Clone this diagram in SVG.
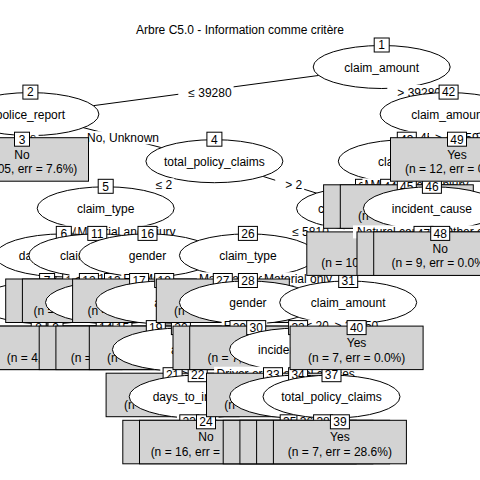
<svg xmlns="http://www.w3.org/2000/svg" width="480" height="480" viewBox="0 0 480 480">
<style>
text{font-family:"Liberation Sans",Arial,sans-serif;font-size:12px;fill:#000}
.m{text-anchor:middle}
.e{fill:#fff;stroke:#000;stroke-width:1}
.t{fill:#d3d3d3;stroke:#000;stroke-width:1}
.i{fill:#fff;stroke:#000;stroke-width:1}
.b{fill:#fff}
line{stroke:#000;stroke-width:1}
</style>
<rect width="480" height="480" fill="#fff"/>
<text class="m" x="240" y="33.5">Arbre C5.0 - Information comme critère</text>
<g id="e1"><line x1="381.7" y1="67" x2="30.4" y2="114.1"/><line x1="381.7" y1="67" x2="448.6" y2="114.1"/></g>
<g id="n1"><ellipse class="e" cx="381.7" cy="67" rx="68.5" ry="21.5"/><text class="m" x="381.7" y="71.5">claim_amount</text><rect class="i" x="374.2" y="38" width="15" height="14"/><text class="m" x="381.7" y="49.3">1</text></g>
<g id="l1"><rect class="b" x="178.3" y="85" width="55.3" height="14"/><text class="m" x="210" y="96.5">≤ 39280</text><rect class="b" x="387.3" y="85" width="55.7" height="14"/><text class="m" x="419.2" y="96.5">&gt; 39280</text></g>
<g id="e2"><line x1="30.4" y1="114.1" x2="22" y2="161.2"/><line x1="30.4" y1="114.1" x2="214.4" y2="161.2"/></g>
<g id="n2"><ellipse class="e" cx="30.4" cy="114.1" rx="68.5" ry="21.5"/><text class="m" x="30.4" y="118.6">police_report</text><rect class="i" x="22.9" y="85.1" width="15" height="14"/><text class="m" x="30.4" y="96.4">2</text></g>
<g id="l2"><rect class="b" x="13.9" y="131.2" width="24.7" height="13"/><text class="m" x="26.2" y="142">Yes</text><rect class="b" x="85" y="131.2" width="76" height="13"/><text class="m" x="123" y="142">No, Unknown</text></g>
<g id="n3"><rect class="t" x="-44.5" y="137.7" width="133" height="43.5"/><text class="m" x="22" y="158.6">No</text><text class="m" x="22" y="173.2">(n = 105, err = 7.6%)</text><rect class="i" x="14.5" y="132.2" width="15" height="14"/><text class="m" x="22" y="143.5">3</text></g>
<g id="e4"><line x1="214.4" y1="161.2" x2="105.7" y2="208.3"/><line x1="214.4" y1="161.2" x2="365" y2="208.3"/></g>
<g id="n4"><ellipse class="e" cx="214.4" cy="161.2" rx="68.5" ry="21.5"/><text class="m" x="214.4" y="165.7">total_policy_claims</text><rect class="i" x="206.9" y="132.2" width="15" height="14"/><text class="m" x="214.4" y="143.5">4</text></g>
<g id="l4"><rect class="b" x="145.7" y="178.3" width="28.6" height="13"/><text class="m" x="164" y="189.1">≤ 2</text><rect class="b" x="275.2" y="178.3" width="29" height="13"/><text class="m" x="293.7" y="189.1">&gt; 2</text></g>
<g id="e5"><line x1="105.7" y1="208.3" x2="63.8" y2="255.4"/><line x1="105.7" y1="208.3" x2="97.3" y2="255.4"/><line x1="105.7" y1="208.3" x2="147.5" y2="255.4"/></g>
<g id="n5"><ellipse class="e" cx="105.7" cy="208.3" rx="68.5" ry="21.5"/><text class="m" x="105.7" y="212.8">claim_type</text><rect class="i" x="98.2" y="179.3" width="15" height="14"/><text class="m" x="105.7" y="190.6">5</text></g>
<g id="l5"><rect class="b" x="55.4" y="225.4" width="58.7" height="13"/><text class="m" x="84.7" y="236.2">Injury only</text><rect class="b" x="65.5" y="225.4" width="72" height="13"/><text class="m" x="101.5" y="236.2">Material only</text><rect class="b" x="75.6" y="225.4" width="102" height="13"/><text class="m" x="126.6" y="236.2">Material and injury</text></g>
<g id="e6"><line x1="63.8" y1="255.4" x2="47.1" y2="302.5"/><line x1="63.8" y1="255.4" x2="72.2" y2="302.5"/></g>
<g id="n6"><ellipse class="e" cx="63.8" cy="255.4" rx="68.5" ry="21.5"/><text class="m" x="63.8" y="259.9">days_to_incident</text><rect class="i" x="56.3" y="226.4" width="15" height="14"/><text class="m" x="63.8" y="237.7">6</text></g>
<g id="e7"><line x1="47.1" y1="302.5" x2="38.7" y2="349.6"/><line x1="47.1" y1="302.5" x2="55.5" y2="349.6"/></g>
<g id="n7"><ellipse class="e" cx="47.1" cy="302.5" rx="68.5" ry="21.5"/><rect class="i" x="39.6" y="273.5" width="15" height="14"/><text class="m" x="47.1" y="284.8">7</text></g>
<g id="n8"><rect class="t" x="-27.8" y="326.1" width="133" height="43.5"/><text class="m" x="38.7" y="361.6">(n = 4, err = 0.0%)</text><rect class="i" x="31.2" y="320.6" width="15" height="14"/><text class="m" x="38.7" y="331.9">8</text></g>
<g id="n9"><rect class="t" x="-11" y="326.1" width="133" height="43.5"/><text class="m" x="55.5" y="361.6">(n = 4, err = 0.0%)</text><rect class="i" x="48" y="320.6" width="15" height="14"/><text class="m" x="55.5" y="331.9">9</text></g>
<g id="n10"><rect class="t" x="5.7" y="279" width="133" height="43.5"/><text class="m" x="72.2" y="314.5">(n = 8, err = 0.0%)</text><rect class="i" x="62.7" y="273.5" width="19" height="14"/><text class="m" x="72.2" y="284.8">10</text></g>
<g id="e11"><line x1="97.3" y1="255.4" x2="88.9" y2="302.5"/><line x1="97.3" y1="255.4" x2="114" y2="302.5"/></g>
<g id="n11"><ellipse class="e" cx="97.3" cy="255.4" rx="68.5" ry="21.5"/><text class="m" x="97.3" y="259.9">claim_amount</text><rect class="i" x="87.8" y="226.4" width="19" height="14"/><text class="m" x="97.3" y="237.7">11</text></g>
<g id="l11"><rect class="b" x="69.5" y="272.5" width="47.3" height="13"/><text class="m" x="97.1" y="283.3">≤ 14635</text><rect class="b" x="81.9" y="272.5" width="47.7" height="13"/><text class="m" x="109.7" y="283.3">&gt; 14635</text></g>
<g id="n12"><rect class="t" x="22.4" y="279" width="133" height="43.5"/><text class="m" x="88.9" y="314.5">(n = 14, err = 14.3%)</text><rect class="i" x="79.4" y="273.5" width="19" height="14"/><text class="m" x="88.9" y="284.8">12</text></g>
<g id="e13"><line x1="114" y1="302.5" x2="105.7" y2="349.6"/><line x1="114" y1="302.5" x2="122.4" y2="349.6"/></g>
<g id="n13"><ellipse class="e" cx="114" cy="302.5" rx="68.5" ry="21.5"/><rect class="i" x="104.5" y="273.5" width="19" height="14"/><text class="m" x="114" y="284.8">13</text></g>
<g id="n14"><rect class="t" x="39.2" y="326.1" width="133" height="43.5"/><text class="m" x="105.7" y="361.6">(n = 6, err = 0.0%)</text><rect class="i" x="96.2" y="320.6" width="19" height="14"/><text class="m" x="105.7" y="331.9">14</text></g>
<g id="n15"><rect class="t" x="55.9" y="326.1" width="133" height="43.5"/><text class="m" x="122.4" y="361.6">(n = 9, err = 11.1%)</text><rect class="i" x="112.9" y="320.6" width="19" height="14"/><text class="m" x="122.4" y="331.9">15</text></g>
<g id="e16"><line x1="147.5" y1="255.4" x2="139.1" y2="302.5"/><line x1="147.5" y1="255.4" x2="164.2" y2="302.5"/></g>
<g id="n16"><ellipse class="e" cx="147.5" cy="255.4" rx="68.5" ry="21.5"/><text class="m" x="147.5" y="259.9">gender</text><rect class="i" x="138" y="226.4" width="19" height="14"/><text class="m" x="147.5" y="237.7">16</text></g>
<g id="l16"><rect class="b" x="121.3" y="272.5" width="44" height="13"/><text class="m" x="143.3" y="283.3">Female</text><rect class="b" x="140.9" y="272.5" width="30" height="13"/><text class="m" x="155.9" y="283.3">Male</text></g>
<g id="n17"><rect class="t" x="72.6" y="279" width="133" height="43.5"/><text class="m" x="139.1" y="314.5">(n = 11, err = 9.1%)</text><rect class="i" x="129.6" y="273.5" width="19" height="14"/><text class="m" x="139.1" y="284.8">17</text></g>
<g id="e18"><line x1="164.2" y1="302.5" x2="155.8" y2="349.6"/><line x1="164.2" y1="302.5" x2="180.9" y2="349.6"/></g>
<g id="n18"><ellipse class="e" cx="164.2" cy="302.5" rx="68.5" ry="21.5"/><text class="m" x="164.2" y="307">age</text><rect class="i" x="154.7" y="273.5" width="19" height="14"/><text class="m" x="164.2" y="284.8">18</text></g>
<g id="n19"><rect class="t" x="89.3" y="326.1" width="133" height="43.5"/><text class="m" x="155.8" y="361.6">(n = 5, err = 0.0%)</text><rect class="i" x="146.3" y="320.6" width="19" height="14"/><text class="m" x="155.8" y="331.9">19</text></g>
<g id="e20"><line x1="180.9" y1="349.6" x2="172.6" y2="396.7"/><line x1="180.9" y1="349.6" x2="197.7" y2="396.7"/></g>
<g id="n20"><ellipse class="e" cx="180.9" cy="349.6" rx="68.5" ry="21.5"/><text class="m" x="180.9" y="354.1">age</text><rect class="i" x="171.4" y="320.6" width="19" height="14"/><text class="m" x="180.9" y="331.9">20</text></g>
<g id="l20"><rect class="b" x="160.3" y="367" width="33" height="12"/><text class="m" x="180.8" y="377.5">≤ 35</text><rect class="b" x="172.7" y="367" width="33.3" height="12"/><text class="m" x="193.3" y="377.5">&gt; 35</text></g>
<g id="n21"><rect class="t" x="106.1" y="373.2" width="133" height="43.5"/><text class="m" x="172.6" y="408.7">(n = 6, err = 0.0%)</text><rect class="i" x="163.1" y="367.7" width="19" height="14"/><text class="m" x="172.6" y="379">21</text></g>
<g id="e22"><line x1="197.7" y1="396.7" x2="189.3" y2="443.8"/><line x1="197.7" y1="396.7" x2="206" y2="443.8"/></g>
<g id="n22"><ellipse class="e" cx="197.7" cy="396.7" rx="68.5" ry="21.5"/><text class="m" x="197.7" y="401.2">days_to_incident</text><rect class="i" x="188.2" y="367.7" width="19" height="14"/><text class="m" x="197.7" y="379">22</text></g>
<g id="l22"><rect class="b" x="177" y="414.1" width="33" height="12"/><text class="m" x="197.5" y="424.6">≤ 15</text><rect class="b" x="185.3" y="414.1" width="33.3" height="12"/><text class="m" x="205.9" y="424.6">&gt; 15</text></g>
<g id="n23"><rect class="t" x="122.8" y="420.3" width="133" height="43.5"/><text class="m" x="189.3" y="455.8">(n = 5, err = 0.0%)</text><rect class="i" x="179.8" y="414.8" width="19" height="14"/><text class="m" x="189.3" y="426.1">23</text></g>
<g id="n24"><rect class="t" x="139.5" y="420.3" width="133" height="43.5"/><text class="m" x="206" y="441.2">No</text><text class="m" x="206" y="455.8">(n = 16, err = 12.5%)</text><rect class="i" x="196.5" y="414.8" width="19" height="14"/><text class="m" x="206" y="426.1">24</text></g>
<g id="e25"><line x1="365" y1="208.3" x2="247.9" y2="255.4"/><line x1="365" y1="208.3" x2="373.3" y2="255.4"/></g>
<g id="n25"><ellipse class="e" cx="365" cy="208.3" rx="68.5" ry="21.5"/><text x="318" y="212.8">claim_amount</text><rect class="i" x="355.5" y="179.3" width="19" height="14"/><text class="m" x="365" y="190.6">25</text></g>
<g id="l25"><rect class="b" x="282.2" y="225.4" width="48.6" height="13"/><text class="m" x="310.5" y="236.2">≤ 5810</text><rect class="b" x="344.7" y="225.4" width="49" height="13"/><text class="m" x="373.2" y="236.2">&gt; 5810</text></g>
<g id="e26"><line x1="247.9" y1="255.4" x2="222.8" y2="302.5"/><line x1="247.9" y1="255.4" x2="247.9" y2="302.5"/><line x1="247.9" y1="255.4" x2="348.2" y2="302.5"/></g>
<g id="n26"><ellipse class="e" cx="247.9" cy="255.4" rx="68.5" ry="21.5"/><text class="m" x="247.9" y="259.9">claim_type</text><rect class="i" x="238.4" y="226.4" width="19" height="14"/><text class="m" x="247.9" y="237.7">26</text></g>
<g id="l26"><rect class="b" x="206" y="272.5" width="58.7" height="13"/><text class="m" x="235.4" y="283.3">Injury only</text><rect class="b" x="196.9" y="272.5" width="102" height="13"/><text class="m" x="247.9" y="283.3">Material and injury</text><rect class="b" x="262" y="272.5" width="72" height="13"/><text class="m" x="298" y="283.3">Material only</text></g>
<g id="n27"><rect class="t" x="156.3" y="279" width="133" height="43.5"/><text class="m" x="222.8" y="314.5">(n = 8, err = 0.0%)</text><rect class="i" x="213.3" y="273.5" width="19" height="14"/><text class="m" x="222.8" y="284.8">27</text></g>
<g id="e28"><line x1="247.9" y1="302.5" x2="239.5" y2="349.6"/><line x1="247.9" y1="302.5" x2="256.2" y2="349.6"/></g>
<g id="n28"><ellipse class="e" cx="247.9" cy="302.5" rx="68.5" ry="21.5"/><text class="m" x="247.9" y="307">gender</text><rect class="i" x="238.4" y="273.5" width="19" height="14"/><text class="m" x="247.9" y="284.8">28</text></g>
<g id="l28"><rect class="b" x="221.7" y="319.6" width="44" height="13"/><text class="m" x="243.7" y="330.4">Female</text><rect class="b" x="237.1" y="319.6" width="30" height="13"/><text class="m" x="252.1" y="330.4">Male</text></g>
<g id="n29"><rect class="t" x="173" y="326.1" width="133" height="43.5"/><text class="m" x="239.5" y="361.6">(n = 6, err = 0.0%)</text><rect class="i" x="230" y="320.6" width="19" height="14"/><text class="m" x="239.5" y="331.9">29</text></g>
<g id="n30"><rect class="t" x="189.7" y="326.1" width="133" height="43.5"/><text class="m" x="256.2" y="361.6">(n = 7, err = 0.0%)</text><rect class="i" x="246.7" y="320.6" width="19" height="14"/><text class="m" x="256.2" y="331.9">30</text></g>
<g id="e31"><line x1="348.2" y1="302.5" x2="298.1" y2="349.6"/><line x1="348.2" y1="302.5" x2="356.6" y2="349.6"/></g>
<g id="n31"><ellipse class="e" cx="348.2" cy="302.5" rx="68.5" ry="21.5"/><text class="m" x="348.2" y="307">claim_amount</text><rect class="i" x="338.7" y="273.5" width="19" height="14"/><text class="m" x="348.2" y="284.8">31</text></g>
<g id="l31"><rect class="b" x="299.6" y="319.6" width="47.3" height="13"/><text class="m" x="327.2" y="330.4">≤ 20050</text><rect class="b" x="328.6" y="319.6" width="47.7" height="13"/><text class="m" x="356.4" y="330.4">&gt; 20050</text></g>
<g id="e32"><line x1="298.1" y1="349.6" x2="273" y2="396.7"/><line x1="298.1" y1="349.6" x2="298.1" y2="396.7"/><line x1="298.1" y1="349.6" x2="331.5" y2="396.7"/></g>
<g id="n32"><ellipse class="e" cx="298.1" cy="349.6" rx="68.5" ry="21.5"/><text class="m" x="298.1" y="354.1">incident_cause</text><rect class="i" x="288.6" y="320.6" width="19" height="14"/><text class="m" x="298.1" y="331.9">32</text></g>
<g id="l32"><rect class="b" x="214.1" y="366.7" width="143" height="13"/><text class="m" x="285.6" y="377.5">Driver error, Other causes</text><rect class="b" x="272.8" y="366.7" width="84" height="13"/><text class="m" x="314.8" y="377.5">Natural causes</text></g>
<g id="n33"><rect class="t" x="206.5" y="373.2" width="133" height="43.5"/><text class="m" x="273" y="408.7">(n = 9, err = 0.0%)</text><rect class="i" x="263.5" y="367.7" width="19" height="14"/><text class="m" x="273" y="379">33</text></g>
<g id="e34"><line x1="298.1" y1="396.7" x2="289.7" y2="443.8"/><line x1="298.1" y1="396.7" x2="306.4" y2="443.8"/></g>
<g id="n34"><ellipse class="e" cx="298.1" cy="396.7" rx="68.5" ry="21.5"/><rect class="i" x="288.6" y="367.7" width="19" height="14"/><text class="m" x="298.1" y="379">34</text></g>
<g id="n35"><rect class="t" x="223.2" y="420.3" width="133" height="43.5"/><text class="m" x="289.7" y="455.8">(n = 5, err = 0.0%)</text><rect class="i" x="280.2" y="414.8" width="19" height="14"/><text class="m" x="289.7" y="426.1">35</text></g>
<g id="n36"><rect class="t" x="239.9" y="420.3" width="133" height="43.5"/><text class="m" x="306.4" y="455.8">(n = 5, err = 0.0%)</text><rect class="i" x="296.9" y="414.8" width="19" height="14"/><text class="m" x="306.4" y="426.1">36</text></g>
<g id="e37"><line x1="331.5" y1="396.7" x2="323.1" y2="443.8"/><line x1="331.5" y1="396.7" x2="339.9" y2="443.8"/></g>
<g id="n37"><ellipse class="e" cx="331.5" cy="396.7" rx="68.5" ry="21.5"/><text class="m" x="331.5" y="401.2">total_policy_claims</text><rect class="i" x="322" y="367.7" width="19" height="14"/><text class="m" x="331.5" y="379">37</text></g>
<g id="n38"><rect class="t" x="256.6" y="420.3" width="133" height="43.5"/><text class="m" x="323.1" y="455.8">(n = 5, err = 0.0%)</text><rect class="i" x="313.6" y="414.8" width="19" height="14"/><text class="m" x="323.1" y="426.1">38</text></g>
<g id="n39"><rect class="t" x="273.4" y="420.3" width="133" height="43.5"/><text class="m" x="339.9" y="441.2">Yes</text><text class="m" x="339.9" y="455.8">(n = 7, err = 28.6%)</text><rect class="i" x="330.4" y="414.8" width="19" height="14"/><text class="m" x="339.9" y="426.1">39</text></g>
<g id="n40"><rect class="t" x="290.1" y="326.1" width="133" height="43.5"/><text class="m" x="356.6" y="347">Yes</text><text class="m" x="356.6" y="361.6">(n = 7, err = 0.0%)</text><rect class="i" x="347.1" y="320.6" width="19" height="14"/><text class="m" x="356.6" y="331.9">40</text></g>
<g id="n41"><rect class="t" x="306.8" y="231.9" width="133" height="43.5"/><text class="m" x="373.3" y="267.4">(n = 10, err = 0.0%)</text><rect class="i" x="363.8" y="226.4" width="19" height="14"/><text class="m" x="373.3" y="237.7">41</text></g>
<g id="e42"><line x1="448.6" y1="114.1" x2="406.8" y2="161.2"/><line x1="448.6" y1="114.1" x2="457" y2="161.2"/></g>
<g id="n42"><ellipse class="e" cx="448.6" cy="114.1" rx="68.5" ry="21.5"/><text class="m" x="448.6" y="118.6">claim_amount</text><rect class="i" x="439.1" y="85.1" width="19" height="14"/><text class="m" x="448.6" y="96.4">42</text></g>
<g id="l42"><rect class="b" x="404" y="131.2" width="47.3" height="13"/><text class="m" x="431.7" y="142">≤ 45959</text><rect class="b" x="429" y="131.2" width="47.7" height="13"/><text class="m" x="456.8" y="142">&gt; 45959</text></g>
<g id="e43"><line x1="406.8" y1="161.2" x2="390.1" y2="208.3"/><line x1="406.8" y1="161.2" x2="406.8" y2="208.3"/><line x1="406.8" y1="161.2" x2="431.9" y2="208.3"/></g>
<g id="n43"><ellipse class="e" cx="406.8" cy="161.2" rx="68.5" ry="21.5"/><text class="m" x="406.8" y="165.7">claim_type</text><rect class="i" x="397.3" y="132.2" width="19" height="14"/><text class="m" x="406.8" y="143.5">43</text></g>
<g id="l43"><rect class="b" x="362.5" y="178.3" width="72" height="13"/><text class="m" x="398.5" y="189.1">Material only</text><rect class="b" x="377.5" y="178.3" width="58.7" height="13"/><text class="m" x="406.8" y="189.1">Injury only</text><rect class="b" x="368.4" y="178.3" width="102" height="13"/><text class="m" x="419.4" y="189.1">Material and injury</text></g>
<g id="n44"><rect class="t" x="323.6" y="184.8" width="133" height="43.5"/><text class="m" x="390.1" y="220.3">(n = 6, err = 0.0%)</text><rect class="i" x="380.6" y="179.3" width="19" height="14"/><text class="m" x="390.1" y="190.6">44</text></g>
<g id="n45"><rect class="t" x="340.3" y="184.8" width="133" height="43.5"/><text class="m" x="406.8" y="220.3">(n = 8, err = 0.0%)</text><rect class="i" x="397.3" y="179.3" width="19" height="14"/><text class="m" x="406.8" y="190.6">45</text></g>
<g id="e46"><line x1="431.9" y1="208.3" x2="423.5" y2="255.4"/><line x1="431.9" y1="208.3" x2="440.2" y2="255.4"/></g>
<g id="n46"><ellipse class="e" cx="431.9" cy="208.3" rx="68.5" ry="21.5"/><text class="m" x="431.9" y="212.8">incident_cause</text><rect class="i" x="422.4" y="179.3" width="19" height="14"/><text class="m" x="431.9" y="190.6">46</text></g>
<g id="l46"><rect class="b" x="353" y="225.4" width="166" height="13"/><text class="m" x="436.1" y="236.2">Natural causes, Other causes</text></g>
<g id="n47"><rect class="t" x="357" y="231.9" width="133" height="43.5"/><text class="m" x="423.5" y="267.4">(n = 5, err = 0.0%)</text><rect class="i" x="414" y="226.4" width="19" height="14"/><text class="m" x="423.5" y="237.7">47</text></g>
<g id="n48"><rect class="t" x="373.7" y="231.9" width="133" height="43.5"/><text class="m" x="440.2" y="252.8">No</text><text class="m" x="440.2" y="267.4">(n = 9, err = 0.0%)</text><rect class="i" x="430.7" y="226.4" width="19" height="14"/><text class="m" x="440.2" y="237.7">48</text></g>
<g id="n49"><rect class="t" x="390.5" y="137.7" width="133" height="43.5"/><text class="m" x="457" y="158.6">Yes</text><text class="m" x="457" y="173.2">(n = 12, err = 0.0%)</text><rect class="i" x="447.5" y="132.2" width="19" height="14"/><text class="m" x="457" y="143.5">49</text></g>
</svg>
